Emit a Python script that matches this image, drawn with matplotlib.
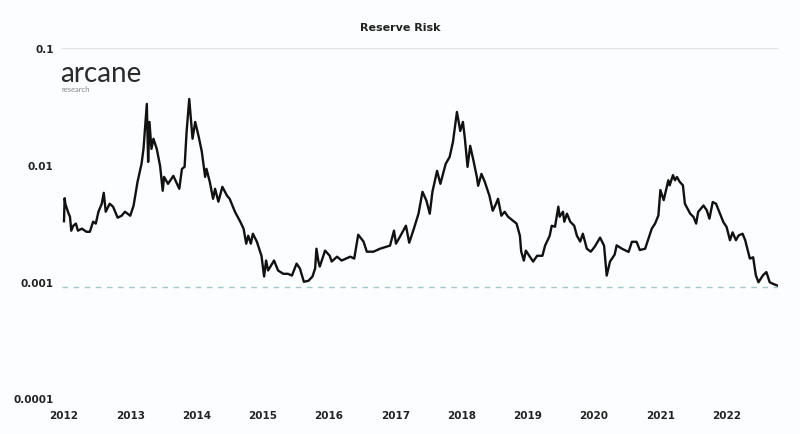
import matplotlib
matplotlib.use("Agg")
import matplotlib.pyplot as plt

# Reserve Risk (decimal year, value)
dates = [
    2012.00, 2012.01, 2012.02, 2012.07, 2012.09, 2012.11, 2012.14, 2012.18, 2012.21, 2012.27,
    2012.34, 2012.39, 2012.44, 2012.48, 2012.52, 2012.57, 2012.60, 2012.63, 2012.69, 2012.74,
    2012.81, 2012.87, 2012.92, 2013.00, 2013.05, 2013.11, 2013.17, 2013.20, 2013.23, 2013.25,
    2013.27, 2013.29, 2013.32, 2013.35, 2013.40, 2013.45, 2013.49, 2013.51, 2013.57, 2013.65,
    2013.74, 2013.78, 2013.82, 2013.85, 2013.89, 2013.94, 2013.98, 2014.03, 2014.08, 2014.13,
    2014.15, 2014.20, 2014.25, 2014.28, 2014.33, 2014.39, 2014.46, 2014.50, 2014.58, 2014.66,
    2014.71, 2014.75, 2014.78, 2014.82, 2014.85, 2014.91, 2014.98, 2015.02, 2015.05, 2015.08,
    2015.17, 2015.23, 2015.31, 2015.38, 2015.44, 2015.51, 2015.56, 2015.62, 2015.69, 2015.75,
    2015.79, 2015.81, 2015.84, 2015.86, 2015.94, 2016.01, 2016.04, 2016.12, 2016.19, 2016.32,
    2016.38, 2016.44, 2016.52, 2016.57, 2016.67, 2016.77, 2016.92, 2016.98, 2017.01, 2017.07,
    2017.16, 2017.21, 2017.28, 2017.35, 2017.41, 2017.47, 2017.52, 2017.56, 2017.63, 2017.68,
    2017.76, 2017.82, 2017.87, 2017.93, 2017.98, 2018.02, 2018.05, 2018.09, 2018.13, 2018.18,
    2018.23, 2018.25, 2018.30, 2018.35, 2018.42, 2018.47, 2018.52, 2018.55, 2018.60, 2018.65,
    2018.70, 2018.83, 2018.88, 2018.90, 2018.94, 2018.97, 2019.03, 2019.08, 2019.14, 2019.22,
    2019.26, 2019.33, 2019.36, 2019.41, 2019.46, 2019.48, 2019.53, 2019.55, 2019.59, 2019.64,
    2019.70, 2019.74, 2019.79, 2019.83, 2019.89, 2019.95, 2020.01, 2020.09, 2020.15, 2020.19,
    2020.24, 2020.31, 2020.34, 2020.42, 2020.52, 2020.57, 2020.64, 2020.69, 2020.77, 2020.82,
    2020.87, 2020.92, 2020.97, 2021.00, 2021.05, 2021.12, 2021.14, 2021.19, 2021.22, 2021.25,
    2021.29, 2021.34, 2021.37, 2021.41, 2021.45, 2021.50, 2021.54, 2021.57, 2021.65, 2021.70,
    2021.74, 2021.79, 2021.84, 2021.90, 2021.95, 2022.00, 2022.05, 2022.09, 2022.14, 2022.18,
    2022.24, 2022.28, 2022.35, 2022.40, 2022.44, 2022.48, 2022.55, 2022.60, 2022.65, 2022.70,
    2022.78,
]
risk = [
    0.0033, 0.0052, 0.00466, 0.00383, 0.00361, 0.00274, 0.00302, 0.00315, 0.00274, 0.00285,
    0.00268, 0.00268, 0.00327, 0.00315, 0.00398, 0.00466, 0.00578, 0.00398, 0.00466, 0.00440,
    0.00354, 0.00368, 0.00398, 0.00368, 0.00448, 0.00718, 0.01023, 0.01375, 0.0234, 0.0334,
    0.01064, 0.0234, 0.01375, 0.0168, 0.01375, 0.00984, 0.00602, 0.00792, 0.0069, 0.00808,
    0.00626, 0.00927, 0.00964, 0.0192, 0.0368, 0.0168, 0.0234, 0.0178, 0.0130, 0.00792,
    0.00927, 0.00718, 0.00514, 0.00626, 0.00485, 0.00651, 0.00546, 0.00514, 0.00398, 0.00327,
    0.00285, 0.00212, 0.00248, 0.00212, 0.00258, 0.00221, 0.00167, 0.00111, 0.00152, 0.00125,
    0.00152, 0.00125, 0.00117, 0.00117, 0.00113, 0.00143, 0.00130, 0.00100, 0.00102, 0.00111,
    0.00130, 0.00192, 0.00149, 0.00135, 0.00185, 0.00167, 0.00149, 0.00164, 0.00152, 0.00164,
    0.00158, 0.00253, 0.00221, 0.00181, 0.00181, 0.00192, 0.00204, 0.00274, 0.00212, 0.00243,
    0.00302, 0.00216, 0.00285, 0.00383, 0.0059, 0.00494, 0.00383, 0.0059, 0.00891, 0.0069,
    0.01023, 0.01174, 0.0158, 0.0285, 0.0196, 0.0234, 0.0168, 0.00964, 0.0146, 0.01086,
    0.00792, 0.00664, 0.0084, 0.00718, 0.00546, 0.00406, 0.00466, 0.00514, 0.00368, 0.00398,
    0.00361, 0.00315, 0.00248, 0.00181, 0.00152, 0.00185, 0.00164, 0.00149, 0.00167, 0.00167,
    0.00204, 0.00248, 0.00302, 0.00296, 0.0044, 0.00361, 0.00398, 0.00327, 0.00383, 0.00327,
    0.00302, 0.00248, 0.00221, 0.00258, 0.00192, 0.00181, 0.0020, 0.00239, 0.00204, 0.00113,
    0.00149, 0.00171, 0.00205, 0.00192, 0.0018, 0.0022, 0.0022, 0.00187, 0.00192, 0.00234,
    0.00285, 0.00315, 0.0037, 0.0061, 0.0050, 0.0074, 0.0067, 0.0082, 0.0074, 0.0079,
    0.0072, 0.0067, 0.00466, 0.00423, 0.00383, 0.00359, 0.00315, 0.00396, 0.0045, 0.0041,
    0.00347, 0.00482, 0.00466, 0.00383, 0.00325, 0.00294, 0.00227, 0.00265, 0.00227, 0.00249,
    0.00258, 0.00227, 0.00158, 0.00162, 0.00114, 0.00099, 0.00114, 0.00121, 0.00099, 0.00096,
    0.00092,
]
current_level = 0.00091
years = list(range(2012, 2023))
y_ticks = [0.0001, 0.001, 0.01, 0.1]
y_labels = ["0.0001", "0.001", "0.01", "0.1"]

bg = "#fcfdfe"
fig = plt.figure(figsize=(8, 4.35), dpi=100, facecolor=bg)
ax = fig.add_axes([62 / 800, 35.5 / 435, 716 / 800, 350.2 / 435], facecolor=bg)

ax.plot(dates, risk, color="#111111", lw=1.7, solid_joinstyle="round")
ax.axhline(current_level, color="#a3c8cb", lw=1.0, ls=(0, (4, 4)))
ax.axhline(0.1, color="#dfe4e7", lw=1.0)

ax.set_yscale("log")
ax.set_ylim(0.0001, 0.1)
ax.set_xlim(2011.97, 2022.775)
ax.set_yticks(y_ticks)
ax.set_yticklabels(y_labels)
ax.minorticks_off()
ax.set_xticks(years)
ax.set_xticklabels([str(y) for y in years])
ax.tick_params(length=0, labelsize=7.5, colors="#222222", pad=6)
ax.tick_params(axis="x", pad=8)
for lab in ax.get_xticklabels() + ax.get_yticklabels():
    lab.set_fontweight("bold")
for s in ax.spines.values():
    s.set_visible(False)

fig.text(0.5, 1 - 28 / 435, "Reserve Risk", ha="center", va="center",
         fontsize=8, fontweight="bold", color="#222222")

# logo
fig.text(60 / 800, 1 - 74 / 435, "arcane", ha="left", va="center",
         fontsize=20, family="Lato", fontweight="normal", color="#2b2b2b")
fig.text(62 / 800, 1 - 90 / 435, "research", ha="left", va="center",
         fontsize=5.5, family="Lato", color="#888888")

fig.savefig("out.png", dpi=100, facecolor=bg)
